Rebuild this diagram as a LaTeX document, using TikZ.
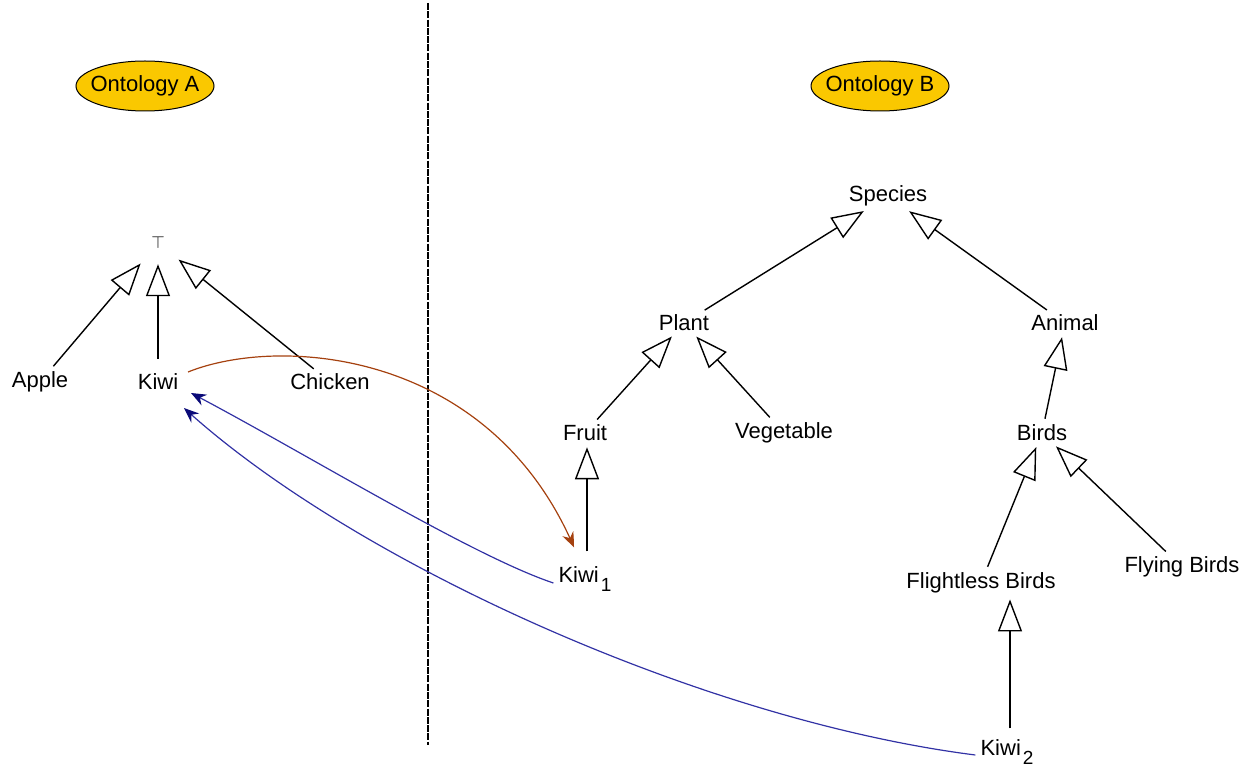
\documentclass[tikz,border=0pt]{standalone}
\usepackage{fontspec}
\setmainfont{Liberation Sans}
\usetikzlibrary{arrows.meta, bending, positioning, shapes.geometric}
\definecolor{ontogold}{RGB}{250,200,0}
\definecolor{mapbrown}{RGB}{165,65,15}
\definecolor{mapblue}{RGB}{50,50,165}
\definecolor{tipblue}{RGB}{10,10,120}
\newcommand{\kiwisub}[1]{Kiwi\hspace{2pt}\raisebox{-9pt}{\fontsize{19}{19}\selectfont #1}}

\begin{document}
\begin{tikzpicture}[
    x=1pt, y=-1pt,
    on grid,
    begrep/.style = {inner sep=3pt},
    onto/.style = {ellipse, draw, fill=ontogold, line width=1pt,
                   minimum width=138pt, minimum height=50pt,
                   inner xsep=-10pt, inner ysep=0pt},
    isa/.style = {-{Triangle[open, length=32pt, width=24pt]}, line width=1.4pt,
                  shorten >=3pt, shorten <=3pt},
    mapA/.style = {mapbrown, line width=1.2pt, -{Stealth[length=15pt, width=12pt, bend]}},
    mapB/.style = {mapblue, line width=1.2pt, -{Stealth[length=15pt, width=12pt, bend, color=tipblue]}},
    font=\fontsize{22}{26}\selectfont
    ]
  \useasboundingbox (0,0) rectangle (1250,775);

  % ontology labels
  \node[onto] (ontA) at (145,86) {Ontology A} ;
  \node[onto] (ontB) at (880,86) {Ontology B} ;

  % separator
  \coordinate (sepTop) at (428,3) ;
  \coordinate (sepBot) at (428,745) ;
  \draw[line width=2.2pt, dash pattern=on 7pt off 1.3pt] (sepTop) -- (sepBot) ;

  % Ontology A
  \node[begrep, minimum width=36pt, minimum height=36pt] (top) at (158,243)
       {\fontsize{19}{19}\selectfont$\top$} ;
  \node[begrep] (apple) [below left=139pt and 118pt of top] {Apple} ;
  \node[begrep] (kiwiA) [below=139pt of top] {Kiwi} ;
  \node[begrep] (chicken) [below right=139pt and 172pt of top] {Chicken} ;

  % Ontology B
  \node[begrep] (species) at (888,196) {Species} ;
  \node[begrep] (plant) [below left=127pt and 204pt of species] {Plant} ;
  \node[begrep] (animal) [below right=127pt and 177pt of species] {Animal} ;
  \node[begrep] (fruit) [below left=110pt and 99pt of plant] {Fruit} ;
  \node[begrep] (vegetable) [below right=110pt and 100pt of plant] {Vegetable} ;
  \node[begrep] (birds) [below left=110pt and 23pt of animal] {Birds} ;
  \node[begrep] (flightless) [below left=150pt and 61pt of birds] {Flightless Birds} ;
  \node[begrep] (flying) [below right=134pt and 140pt of birds] {Flying Birds} ;
  \node[begrep] (kiwiB1) [below=146pt of fruit] {\kiwisub{1}} ;
  \node[begrep] (kiwiB2) at (1007,752) {\kiwisub{2}} ;

  % subclass links
  \draw[isa]
  (apple) edge (top)
  (kiwiA) edge[shorten <=12pt] (top)
  (chicken) edge (top)
  (plant) edge (species)
  (animal) edge (species)
  (fruit) edge (plant)
  (vegetable) edge (plant)
  (birds) edge (animal)
  (flightless) edge (birds)
  (flying) edge (birds) ;
  \draw[isa, shorten <=12pt] ([xshift=2pt]kiwiB1.north) -- ([xshift=2pt]kiwiB1.north |- fruit.south) ;
  \draw[isa, shorten <=8pt] ([xshift=3pt]kiwiB2.north) -- ([xshift=3pt]kiwiB2.north |- flightless.south) ;

  % mappings
  \draw[mapA] ([shift={(30pt,10pt)}]kiwiA.center)
     .. controls (280,335) and (490,350) .. ([shift={(-11pt,16pt)}]kiwiB1.north) ;
  \draw[mapB] ([xshift=-2pt,yshift=-4pt]kiwiB1.west)
     .. controls (470,555) and (300,450) .. ([shift={(33pt,-11pt)}]kiwiA.center) ;
  \draw[mapB] ([xshift=-2pt,yshift=-3pt]kiwiB2.west)
     .. controls (700,720) and (350,560) .. ([shift={(26pt,-26pt)}]kiwiA.center) ;

\end{tikzpicture}
\end{document}
